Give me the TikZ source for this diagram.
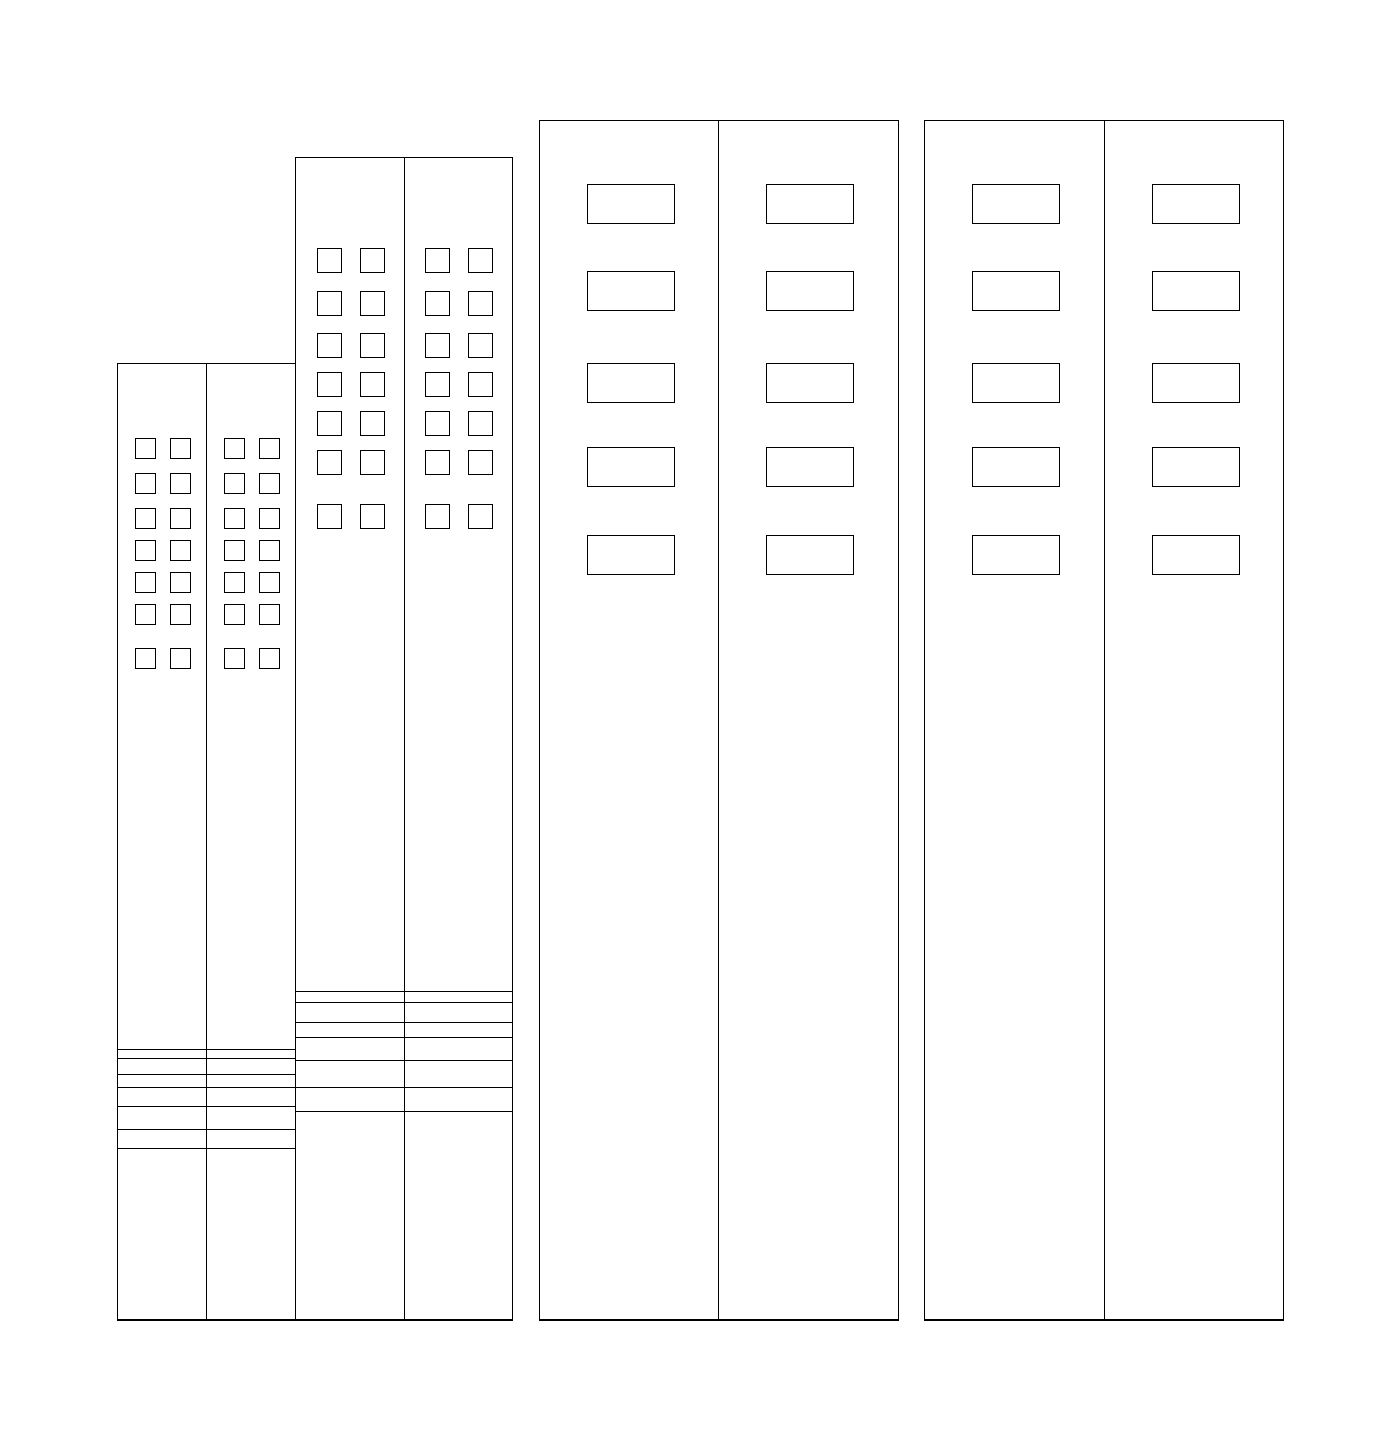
\documentclass[tikz,border=0pt]{standalone}
\begin{document}
\begin{tikzpicture}[x=1pt,y=-1pt,
  frame/.style={draw=black,line width=1.1pt},
  win/.style={draw=black,line width=1.1pt}]
\useasboundingbox[fill=white] (0,0) rectangle (1399,1440);
% Block A
\draw[frame] (117.3,363.3) rectangle (295.3,1320);
\draw[frame] (206.3,363.3) -- (206.3,1320);
\foreach \y in {1049.3,1058.3,1074.3,1087.3,1106.3,1129.3,1148.7}
  \draw[frame] (117.3,\y) -- (295.3,\y);
\foreach \x in {135.3,170.3,224.3,259.3}
  \foreach \y in {438.3,473.3,508.3,540.3,572.3,604.3,648.3}
    \draw[win] (\x,\y) rectangle ++(20.4,20.3);
% Block B
\draw[frame] (295.3,157.3) rectangle (512.3,1320);
\draw[frame] (404.3,157.3) -- (404.3,1320);
\foreach \y in {991.3,1002.3,1022.3,1037.3,1060.3,1087.3,1111.3}
  \draw[frame] (295.3,\y) -- (512.3,\y);
\foreach \x in {317.3,360.3,425.3,468.3}
  \foreach \y in {248.3,291.3,333.3,372.3,411.3,450.3,504.3}
    \draw[win] (\x,\y) rectangle ++(24.6,24.6);
% Block C
\draw[frame] (539.3,120.3) rectangle (898.3,1320);
\draw[frame] (718.3,120.3) -- (718.3,1320);
% Block D
\draw[frame] (924.3,120.3) rectangle (1283.3,1320);
\draw[frame] (1104.3,120.3) -- (1104.3,1320);
\foreach \x in {587.3,766.3,972.3,1152.3}
  \foreach \y in {184.3,271.3,363.3,447.3,535.3}
    \draw[win] (\x,\y) rectangle ++(87.5,39.5);
\end{tikzpicture}
\end{document}
